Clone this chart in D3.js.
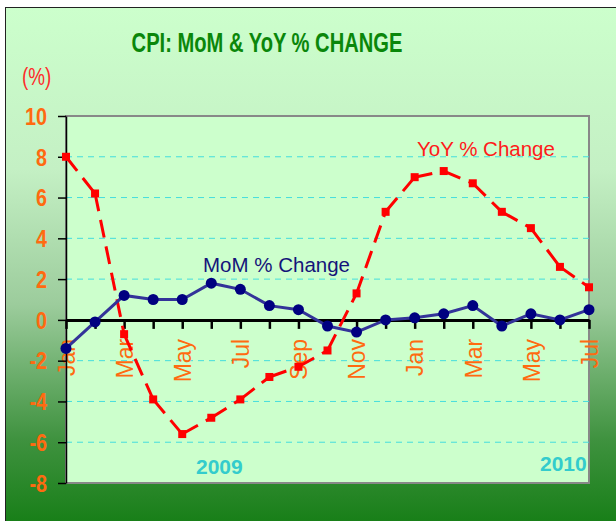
<!DOCTYPE html>
<html>
<head>
<meta charset="utf-8">
<script src="https://cdn.jsdelivr.net/npm/d3@7"></script>
<style>
  body { margin: 0; background: #fff; }
  text { font-family: "Liberation Sans", Arial, sans-serif; }
</style>
</head>
<body>
<script>
// Jan 2009 .. Jul 2010
const months = ['Jan','Feb','Mar','Apr','May','Jun','Jul','Aug','Sep','Oct','Nov','Dec',
                'Jan','Feb','Mar','Apr','May','Jun','Jul']
const momValues = [-1.4,-0.1,1.2,1.0,1.0,1.8,1.5,0.7,0.5,-0.3,-0.6,0.0,0.1,0.3,0.7,-0.3,0.3,0.0,0.5]
const yoyValues = [8.0,6.2,-0.7,-3.9,-5.6,-4.8,-3.9,-2.8,-2.3,-1.5,1.3,5.3,7.0,7.3,6.7,5.3,4.5,2.6,1.6]
const yTicks = [-8,-6,-4,-2,0,2,4,6,8,10]
const gridValues = [-6,-4,-2,2,4,6,8]

const w = 616
const h = 521
const padLeft = 66, padRight = 589, padTop = 116, padBottom = 483

const svg = d3.select('body')
     .append('svg')
     .attr('width', w)
     .attr('height', h)

const defs = svg.append('defs')
const grad = defs.append('linearGradient')
     .attr('id', 'bg')
     .attr('x1', 0).attr('y1', 0).attr('x2', 0).attr('y2', 1)
grad.append('stop').attr('offset', '0%').attr('stop-color', '#ccffcc')
grad.append('stop').attr('offset', '30%').attr('stop-color', '#c4f0c4')
grad.append('stop').attr('offset', '55%').attr('stop-color', '#9ccc9c')
grad.append('stop').attr('offset', '80%').attr('stop-color', '#3f923f')
grad.append('stop').attr('offset', '100%').attr('stop-color', '#0c790c')

svg.append('rect')
     .attr('x', 5.5).attr('y', 7.5)
     .attr('width', 640).attr('height', 540)
     .attr('fill', 'url(#bg)')
     .attr('stroke', '#222')
     .attr('stroke-width', 1)

const xScale = d3.scalePoint()
     .domain(d3.range(months.length))
     .range([padLeft, padRight])
const yScale = d3.scaleLinear()
     .domain([-8, 10])
     .range([padBottom, padTop])

// plot area
svg.append('rect')
     .attr('x', padLeft).attr('y', padTop)
     .attr('width', padRight - padLeft).attr('height', padBottom - padTop)
     .attr('fill', '#ccffcc')
     .attr('stroke', '#888')
     .attr('stroke-width', 2)

svg.selectAll('line.grid')
     .data(gridValues)
     .enter()
     .append('line')
     .attr('class', 'grid')
     .attr('x1', padLeft).attr('x2', padRight)
     .attr('y1', d => yScale(d)).attr('y2', d => yScale(d))
     .attr('stroke', '#44dddd')
     .attr('stroke-width', 1)
     .attr('stroke-dasharray', '6,5')

// title
svg.append('text')
     .attr('x', 267 / 0.72).attr('y', 52)
     .attr('transform', 'scale(0.72,1)')
     .attr('text-anchor', 'middle')
     .attr('font-size', 28)
     .attr('font-weight', 'bold')
     .attr('fill', '#0a870a')
     .text('CPI: MoM & YoY % CHANGE')

svg.append('text')
     .attr('x', 22 / 0.82).attr('y', 85)
     .attr('transform', 'scale(0.82,1)')
     .attr('font-size', 23)
     .attr('fill', '#ff2a2a')
     .text('(%)')

// x axis on the zero line
const xAxis = d3.axisBottom(xScale)
     .tickSize(9)
     .tickSizeOuter(0)
     .tickFormat(i => i % 2 === 0 ? months[i] : '')
const gx = svg.append('g')
     .attr('transform', 'translate(0,' + yScale(0) + ')')
     .call(xAxis)
gx.select('.domain').attr('stroke', '#000').attr('stroke-width', 3)
gx.selectAll('.tick line').attr('stroke', '#000').attr('stroke-width', 2.5)
gx.selectAll('.tick text')
     .attr('transform', 'rotate(-90)')
     .attr('text-anchor', 'end')
     .attr('x', -19)
     .attr('y', 0)
     .attr('dy', '0.36em')
     .attr('font-size', 23)
     .attr('font-family', '"Liberation Sans", Arial, sans-serif')
     .attr('fill', '#ff6a10')

// y axis
const yAxis = d3.axisLeft(yScale)
     .tickValues(yTicks)
     .tickSize(8)
     .tickSizeOuter(0)
     .tickFormat(d => String(d))
const gy = svg.append('g')
     .attr('transform', 'translate(' + padLeft + ',0)')
     .call(yAxis)
gy.select('.domain').attr('stroke', '#000').attr('stroke-width', 1.5)
gy.selectAll('.tick line').attr('stroke', '#000').attr('stroke-width', 1.5)
gy.selectAll('.tick text')
     .attr('transform', 'scale(0.86,1)')
     .attr('x', -19 / 0.86)
     .attr('dy', '0.36em')
     .attr('font-size', 23)
     .attr('font-weight', 'bold')
     .attr('font-family', '"Liberation Sans", Arial, sans-serif')
     .attr('fill', '#ff6a10')

// YoY: dashed red, dash pattern restarts at every point
const yoyPts = yoyValues.map((v, i) => [xScale(i), yScale(v)])
svg.selectAll('line.yoy')
     .data(d3.pairs(yoyPts))
     .enter()
     .append('line')
     .attr('class', 'yoy')
     .attr('x1', d => d[0][0]).attr('y1', d => d[0][1])
     .attr('x2', d => d[1][0]).attr('y2', d => d[1][1])
     .attr('stroke', '#ff0000')
     .attr('stroke-width', 3)
     .attr('stroke-dasharray', '18,9')
svg.selectAll('rect.yoy')
     .data(yoyValues)
     .enter()
     .append('rect')
     .attr('class', 'yoy')
     .attr('x', (d, i) => xScale(i) - 4)
     .attr('y', d => yScale(d) - 4)
     .attr('width', 8).attr('height', 8)
     .attr('fill', '#ff0000')

// MoM: solid blue with circles
const line = d3.line()
     .x((d, i) => xScale(i))
     .y(d => yScale(d))
svg.append('path')
     .datum(momValues)
     .attr('d', line)
     .attr('fill', 'none')
     .attr('stroke', '#333399')
     .attr('stroke-width', 3)
svg.selectAll('circle.mom')
     .data(momValues)
     .enter()
     .append('circle')
     .attr('class', 'mom')
     .attr('cx', (d, i) => xScale(i))
     .attr('cy', d => yScale(d))
     .attr('r', 5.5)
     .attr('fill', '#000080')

// series labels
svg.append('text')
     .attr('x', 417).attr('y', 156)
     .attr('font-size', 20.5)
     .attr('fill', '#ff1a1a')
     .text('YoY % Change')
svg.append('text')
     .attr('x', 203).attr('y', 272)
     .attr('font-size', 20.5)
     .attr('fill', '#14147a')
     .text('MoM % Change')

// year labels
svg.append('text')
     .attr('x', 196).attr('y', 474)
     .attr('font-size', 21)
     .attr('font-weight', 'bold')
     .attr('fill', '#33cccc')
     .text('2009')
svg.append('text')
     .attr('x', 540).attr('y', 471)
     .attr('font-size', 21)
     .attr('font-weight', 'bold')
     .attr('fill', '#33cccc')
     .text('2010')
</script>
</body>
</html>
